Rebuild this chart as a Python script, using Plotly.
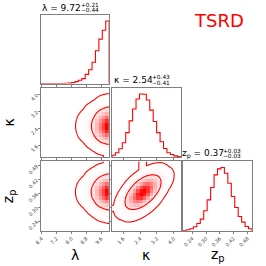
import numpy as np
import plotly.graph_objects as go

# ---------------- data ----------------
lam_range = [6.36, 10.02]
kap_range = [1.06, 4.33]
zp_range = [0.20, 0.50]

lam_counts = [0.2, 0.2, 0.2, 0.2, 0.3, 0.4, 0.5, 1, 1.5, 3, 6, 10, 15, 28, 42, 65, 100, 135, 162, 190]
kap_counts = [6, 13, 25, 43, 73, 108, 143, 173, 188, 187, 170, 140, 106, 73, 46, 26, 13, 8, 4, 2]
zp_counts = [1, 3, 6, 12, 22, 35, 60, 93, 130, 168, 186, 190, 173, 143, 103, 70, 43, 26, 13, 6]

kz_rho = 0.55  # correlation seen in the kappa / z_p panel

lam_ticks = [6.4, 7.2, 8.0, 8.8, 9.6]
kap_ticks = [1.6, 2.4, 3.2, 4.0]
zp_ticks = [0.24, 0.30, 0.36, 0.42, 0.48]
lam_ticktext = ["6.4", "7.2", "8.0", "8.8", "9.6"]
kap_ticktext = ["1.6", "2.4", "3.2", "4.0"]
zp_ticktext = ["0.24", "0.30", "0.36", "0.42", "0.48"]

param_labels = ["λ", "κ", "z<sub>p</sub>"]
title_values = ["9.72", "2.54", "0.37"]
title_plus = ["+0.21", "+0.43", "+0.03"]
title_minus = ["−0.44", "−0.41", "−0.03"]
label_text = "TSRD"

levels = [0.71, 0.968]

# ---------------- helpers ----------------
W = H = 266
RED = "#ff0000"
FONT = "DejaVu Sans"

cols_px = [(34.7, 104.9), (107.8, 178.4), (180.8, 251.6)]
rows_px = [(14.8, 83.6), (87.6, 157.2), (161.2, 230.8)]


def xdom(c):
    a, b = cols_px[c]
    return [a / W, b / W]


def ydom(r):
    a, b = rows_px[r]
    return [1 - b / H, 1 - a / H]


def centers(rng, n):
    e = np.linspace(rng[0], rng[1], n + 1)
    return 0.5 * (e[:-1] + e[1:]), e


ranges = [lam_range, kap_range, zp_range]
counts = [np.array(lam_counts, float), np.array(kap_counts, float), np.array(zp_counts, float)]
ticks = [lam_ticks, kap_ticks, zp_ticks]
ticktexts = [lam_ticktext, kap_ticktext, zp_ticktext]


def marg(i, x):
    c, _ = centers(ranges[i], len(counts[i]))
    return np.interp(x, c, counts[i])


def stats(i):
    c, _ = centers(ranges[i], len(counts[i]))
    w = counts[i] / counts[i].sum()
    m = (c * w).sum()
    s = np.sqrt(((c - m) ** 2 * w).sum())
    return m, s


def joint(i, j, xi, yj):
    X, Y = np.meshgrid(xi, yj)
    if (i, j) == (1, 2):
        mk, sk = stats(1)
        mz, sz = stats(2)
        b = kz_rho * sz / sk
        zz = mz + (Y - mz - b * (X - mk)) / np.sqrt(1 - kz_rho ** 2)
        return marg(1, X) * marg(2, zz)
    return marg(i, X) * marg(j, Y)


def mass_levels(D):
    f = np.sort(D.ravel())[::-1]
    cum = np.cumsum(f) / f.sum()
    return [f[min(np.searchsorted(cum, l), len(f) - 1)] for l in levels]


# density colour scale: red at peak to white at zero (matplotlib alpha blend)
cs = []
for s in np.linspace(0, 1, 11):
    g = int(round(255 * (1 - s * s)))
    cs.append([float(s), f"rgb(255,{g},{g})"])

fig = go.Figure()

panels = {}  # (row, col) -> axis index
idx = 0
for r in range(3):
    for c in range(r + 1):
        idx += 1
        panels[(r, c)] = idx

for (r, c), k in panels.items():
    xa = "x" if k == 1 else f"x{k}"
    ya = "y" if k == 1 else f"y{k}"
    if r == c:
        cen, e = centers(ranges[c], len(counts[c]))
        xs = [e[0]] + list(e[:-1]) + [e[-1], e[-1]]
        ys = [0] + list(counts[c]) + [counts[c][-1], 0]
        fig.add_trace(go.Scatter(x=xs, y=ys, mode="lines", line=dict(color=RED, width=1.1, shape="hv"),
                                 xaxis=xa, yaxis=ya, hoverinfo="skip"))
    else:
        i, j = c, r
        cx, _ = centers(ranges[i], 20)
        cy, _ = centers(ranges[j], 20)
        Hb = joint(i, j, cx, cy)
        fig.add_trace(go.Heatmap(x=cx, y=cy, z=Hb, colorscale=cs, zmin=0, zmax=Hb.max(), showscale=False,
                                 zsmooth=False, xaxis=xa, yaxis=ya, hoverinfo="skip"))
        fx = np.linspace(ranges[i][0], ranges[i][1], 140)
        fy = np.linspace(ranges[j][0], ranges[j][1], 140)
        D = joint(i, j, fx, fy)
        t_in, t_out = mass_levels(D)
        fig.add_trace(go.Contour(x=fx, y=fy, z=D, showscale=False,
                                 contours=dict(coloring="lines", start=t_out, end=t_in * 1.0001,
                                               size=t_in - t_out),
                                 colorscale=[[0, RED], [1, RED]], line=dict(width=1.1, smoothing=1.0),
                                 xaxis=xa, yaxis=ya, hoverinfo="skip"))

layout = dict(width=W, height=H, margin=dict(l=0, r=0, t=0, b=0), showlegend=False,
              paper_bgcolor="white", plot_bgcolor="white", font=dict(family=FONT))

axis_common = dict(showline=True, mirror=True, linecolor="#7f7f7f", linewidth=1, showgrid=False,
                   zeroline=False, ticks="outside", ticklen=2, tickwidth=1, tickcolor="#7f7f7f",
                   tickangle=-45, tickfont=dict(size=5, color="#404040", family=FONT))

for (r, c), k in panels.items():
    xk = "xaxis" if k == 1 else f"xaxis{k}"
    yk = "yaxis" if k == 1 else f"yaxis{k}"
    ya_ref = "y" if k == 1 else f"y{k}"
    xa_ref = "x" if k == 1 else f"x{k}"
    xd = dict(axis_common, domain=xdom(c), range=ranges[c], anchor=ya_ref,
              tickvals=ticks[c], ticktext=ticktexts[c], showticklabels=(r == 2))
    if r == c:
        yd = dict(axis_common, domain=ydom(r), range=[0, 1.1 * counts[c].max()], anchor=xa_ref,
                  ticks="", showticklabels=False)
    else:
        yd = dict(axis_common, domain=ydom(r), range=ranges[r], anchor=xa_ref,
                  tickvals=ticks[r], ticktext=ticktexts[r], showticklabels=(c == 0))
    layout[xk] = xd
    layout[yk] = yd

ann = []
# titles above diagonal panels
for d in range(3):
    cxp = 0.5 * (cols_px[d][0] + cols_px[d][1])
    top = rows_px[d][0]
    p = cxp + 7.5
    ann.append(dict(x=p / W, y=1 - (top - 7.3) / H, xref="paper", yref="paper", xanchor="right",
                    yanchor="middle", showarrow=False, borderpad=0,
                    text=f"{param_labels[d]} = {title_values[d]}", font=dict(size=9, color="black", family=FONT)))
    ann.append(dict(x=(p - 2.6) / W, y=1 - (top - 10.2) / H, xref="paper", yref="paper", xanchor="left",
                    yanchor="middle", showarrow=False, text=title_plus[d], borderpad=0,
                    font=dict(size=5.8, color="black", family=FONT)))
    ann.append(dict(x=(p - 2.6) / W, y=1 - (top - 4.8) / H, xref="paper", yref="paper", xanchor="left",
                    yanchor="middle", showarrow=False, text=title_minus[d], borderpad=0,
                    font=dict(size=5.8, color="black", family=FONT)))

# axis labels
for d in range(3):
    cxp = 0.5 * (cols_px[d][0] + cols_px[d][1])
    ann.append(dict(x=cxp / W, y=1 - 255 / H, xref="paper", yref="paper", xanchor="center", yanchor="middle",
                    showarrow=False, text=param_labels[d], font=dict(size=14, color="black", family=FONT)))
for r in (1, 2):
    cyp = 0.5 * (rows_px[r][0] + rows_px[r][1])
    ann.append(dict(x=2.2 / W, y=1 - cyp / H, xref="paper", yref="paper", xanchor="center", yanchor="middle",
                    showarrow=False, textangle=-90, text=param_labels[r],
                    font=dict(size=14, color="black", family=FONT)))

ann.append(dict(x=218 / W, y=1 - 20 / H, xref="paper", yref="paper", xanchor="center", yanchor="middle",
                showarrow=False, text=label_text, font=dict(size=18, color=RED, family=FONT)))

layout["annotations"] = ann
fig.update_layout(**layout)
fig.write_html("out.html", config={"displayModeBar": False, "staticPlot": True},
               post_script="document.body.style.margin='0';document.body.style.overflow='hidden';")
